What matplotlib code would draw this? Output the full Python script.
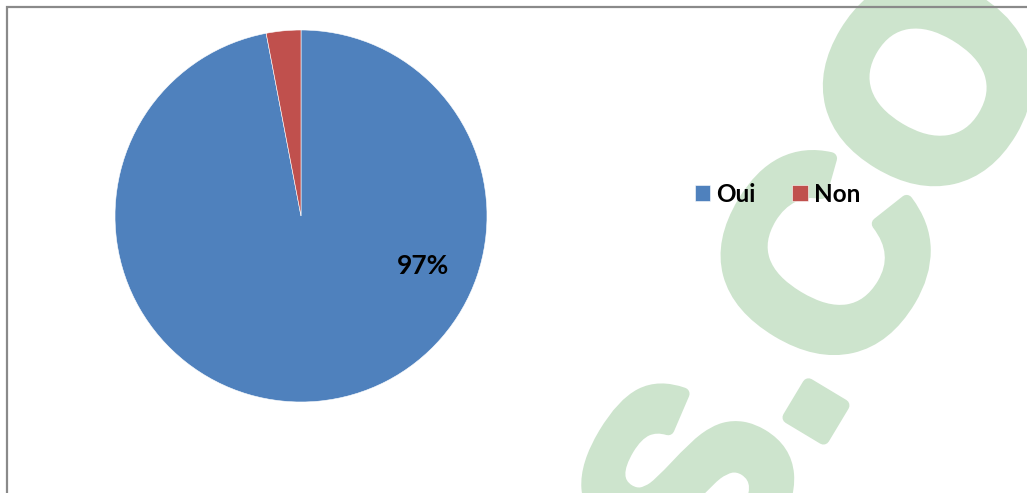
import matplotlib
matplotlib.use("Agg")
import numpy as np
import matplotlib.pyplot as plt
from matplotlib.patches import Rectangle
import matplotlib.patheffects as pe

# Survey answers (percent)
labels = ["Oui", "Non"]
values = [97, 3]
colors = ["#4f81bd", "#c0504d"]

W, H = 1027, 493
fig = plt.figure(figsize=(W / 100, H / 100), dpi=100)
fig.patch.set_facecolor("white")


def fx(px):
    return px / W


def fy(py):
    return 1 - py / H


# Light green "S.CO" watermark running diagonally, anchored at its baseline start
wm_color = "#cde4cd"
wm_angle = 59
wm_em = 272.0
ang = np.deg2rad(wm_angle)
d = np.array([np.cos(ang), -np.sin(ang)])      # along the baseline (image coords)
u = np.array([-np.sin(ang), -np.cos(ang)])     # glyph "up" (image coords)
c_center = np.array([820.0, 255.0])
origin = c_center - (0.667 + 0.278 + 0.361) * wm_em * d - 0.358 * wm_em * u
fig.text(fx(origin[0]), fy(origin[1]), "S.CO", fontsize=wm_em * 0.72,
         fontweight="bold", family="Liberation Sans", color=wm_color,
         rotation=wm_angle, rotation_mode="anchor", ha="left", va="baseline",
         zorder=0.2,
         path_effects=[pe.withStroke(linewidth=9, foreground=wm_color)])

# Chart frame (only left and top edges fall inside the image)
frame = Rectangle((fx(6.5), fy(H + 20)), fx(W + 40), fy(7.5) - fy(H + 20),
                  transform=fig.transFigure, fill=False,
                  edgecolor="#8a8a8a", linewidth=1.6, zorder=0.3)
fig.patches.append(frame)

# Pie axes
ax = fig.add_axes([fx(115), fy(402), fx(372), (402 - 30) / H])
ax.set_zorder(1)
wedges, _ = ax.pie(values, colors=colors, startangle=90, counterclock=False,
                   radius=1.0,
                   wedgeprops=dict(edgecolor="white", linewidth=0.4))
ax.set_xlim(-1, 1)
ax.set_ylim(-1, 1)
ax.set_aspect("equal")
ax.axis("off")

ax.text(0.655, -0.27, f"{values[0]}%", ha="center", va="center",
        fontsize=19, fontweight="bold", family="Lato", color="black")

leg = fig.legend(wedges, labels, loc="center left",
                 bbox_to_anchor=(fx(695), fy(194)), ncol=2, frameon=False,
                 prop=dict(family="Lato", weight="bold", size=17.5),
                 handlelength=0.63, handleheight=0.63, handletextpad=0.25,
                 columnspacing=1.5, borderpad=0, borderaxespad=0)
leg.set_zorder(5)

fig.savefig("out.png", dpi=100, facecolor="white")
